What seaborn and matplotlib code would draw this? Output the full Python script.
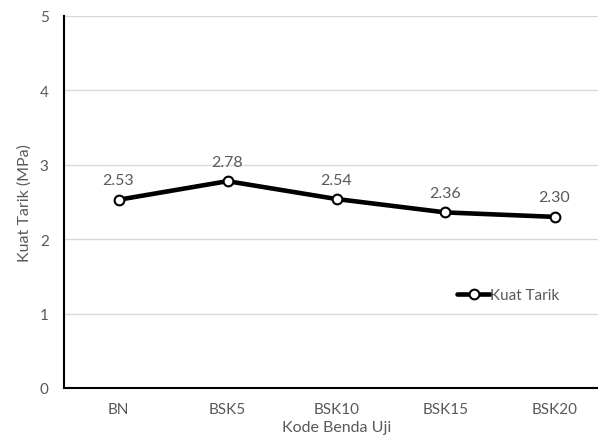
import matplotlib
matplotlib.use("Agg")
import matplotlib.pyplot as plt
import seaborn as sns
import pandas as pd

categories = ["BN", "BSK5", "BSK10", "BSK15", "BSK20"]
kuat_tarik = [2.53, 2.78, 2.54, 2.36, 2.30]
y_ticks = [0, 1, 2, 3, 4, 5]

sns.set_theme(style="white")
plt.rcParams["font.family"] = ["Lato", "DejaVu Sans"]

text_color = "#595959"
df = pd.DataFrame({"Kode": categories, "Kuat Tarik": kuat_tarik, "x": range(len(categories))})

fig = plt.figure(figsize=(5.98, 4.39), dpi=100)
ax = fig.add_axes([64 / 598, 1 - 389 / 439, 545 / 598, 372 / 439])

sns.lineplot(data=df, x="x", y="Kuat Tarik", ax=ax, color="black", linewidth=3.3,
             marker="o", markersize=7, markerfacecolor="white", markeredgecolor="black",
             markeredgewidth=1.5, label="Kuat Tarik", zorder=3)

for xi, v in zip(df["x"], kuat_tarik):
    ax.annotate(f"{v:.2f}", (xi, v), xytext=(0, 9), textcoords="offset points",
                ha="center", va="bottom", fontsize=11.5, color=text_color)

ax.set_xlim(-0.5, len(categories) - 0.5)
ax.set_ylim(0, 5)
ax.set_yticks(y_ticks)
ax.set_xticks(df["x"])
ax.set_xticklabels(categories)
ax.yaxis.grid(True, color="#d9d9d9", linewidth=1)
ax.set_axisbelow(True)

for side in ["top", "right"]:
    ax.spines[side].set_visible(False)
for side in ["left", "bottom"]:
    ax.spines[side].set_color("black")
    ax.spines[side].set_linewidth(1.5)

ax.tick_params(axis="both", length=0, labelsize=11, labelcolor=text_color)
ax.tick_params(axis="y", pad=11)
ax.tick_params(axis="x", pad=10)
ax.set_xlabel("Kode Benda Uji", fontsize=11.5, color=text_color, labelpad=3)
ax.set_ylabel("Kuat Tarik (MPa)", fontsize=11.5, color=text_color, labelpad=6)

leg = ax.legend(loc="center", bbox_to_anchor=(0.815, 0.25), frameon=False, fontsize=11,
                handlelength=2.2, handletextpad=0.0, labelcolor=text_color)

fig.savefig("out.png", dpi=100)
